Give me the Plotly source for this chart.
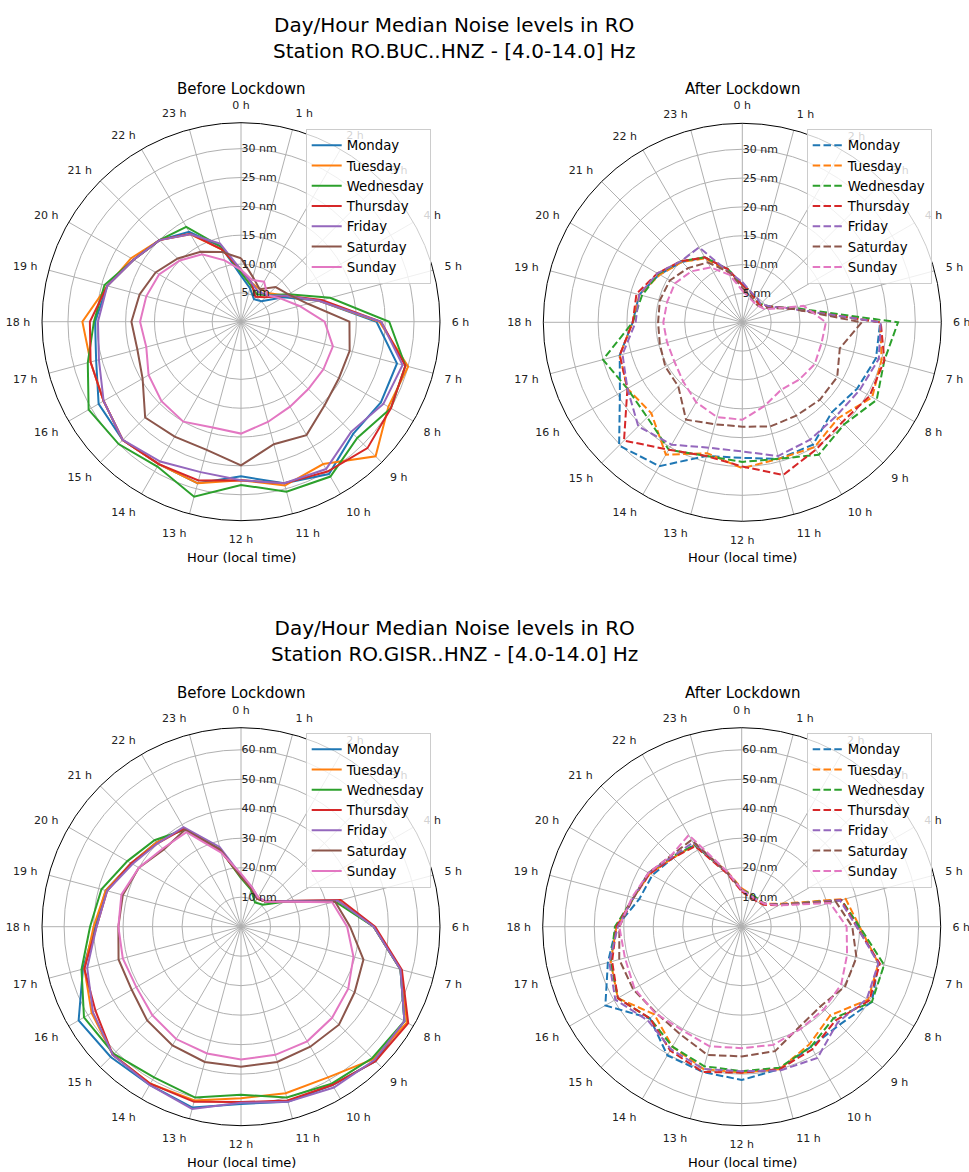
import plotly.graph_objects as go

# ---------------- data ----------------
HOURS = list(range(24))
HOUR_LABELS = [f"{h} h" for h in HOURS]
DAYS = ["Monday", "Tuesday", "Wednesday", "Thursday", "Friday", "Saturday", "Sunday"]
COLORS = ["#1f77b4", "#ff7f0e", "#2ca02c", "#d62728", "#9467bd", "#8c564b", "#e377c2"]

TOP_R_TICKS = [5, 10, 15, 20, 25, 30]
BOTTOM_R_TICKS = [10, 20, 30, 40, 50, 60]

SUPTITLE_BUC = "Day/Hour Median Noise levels in RO<br>Station RO.BUC..HNZ - [4.0-14.0] Hz"
SUPTITLE_GISR = "Day/Hour Median Noise levels in RO<br>Station RO.GISR..HNZ - [4.0-14.0] Hz"

# Station RO.BUC - before lockdown (nm), hourly medians
BUC_BEFORE_MON = [8, 6, 4.5, 5, 8.5, 14, 23.5, 28, 28, 27.5, 30.5, 29, 26.8, 29, 28.5, 29, 28.5, 26, 25.3, 24, 21.5, 20, 18, 13.5]
BUC_BEFORE_TUE = [9, 7, 6.5, 7, 9, 14, 24, 30, 29.5, 33, 28.5, 29.4, 27.5, 29, 28.5, 29, 27.5, 27, 27.5, 24, 22, 20, 17.5, 13]
BUC_BEFORE_WED = [8.5, 6.5, 5.5, 6.5, 9.5, 16, 25.7, 29.5, 30, 28.5, 31, 30.5, 28.3, 31.4, 29, 30, 30.5, 27.5, 25.5, 24.5, 21.5, 20, 19, 13.5]
BUC_BEFORE_THU = [9, 7, 5, 6, 9, 14.5, 24.3, 29.5, 30, 31, 30, 29, 27.5, 28.5, 28.5, 29, 27.5, 27, 26.2, 24, 21.5, 20, 17.6, 13]
BUC_BEFORE_FRI = [9, 7, 6, 6.5, 9, 14, 24.3, 29, 28.5, 27, 29.5, 29, 27.5, 27, 28, 29, 27.5, 25.5, 24.8, 24, 21.5, 20, 17.5, 14]
BUC_BEFORE_SAT = [11, 8, 6.5, 8.5, 9.5, 12, 18.8, 19.5, 19.6, 20.5, 22.7, 22, 24.9, 23, 23, 23.5, 19.7, 18.6, 19, 18.2, 17.1, 15.5, 14, 12.5]
BUC_BEFORE_SUN = [9, 7.5, 8, 6.5, 8, 10.5, 14.5, 16.5, 16.5, 16.5, 17, 18, 19.4, 19, 20, 19.5, 18.5, 17, 17.5, 17, 16.4, 15, 13.5, 11]

# Station RO.BUC - after lockdown
BUC_AFTER_MON = [6.5, 5.5, 4.5, 4.3, 5.5, 9, 23.9, 24, 23, 22, 24.5, 24.5, 23.5, 24, 28.8, 30.2, 24.5, 22, 19, 18.5, 16.6, 14.8, 13, 9.5]
BUC_AFTER_TUE = [6.5, 5.5, 4.5, 4.3, 5.5, 9, 23.9, 25, 26, 23.5, 25, 24.5, 25.3, 23.5, 26.5, 22.3, 23, 22, 19, 18.5, 16.5, 14.8, 12.8, 9]
BUC_AFTER_WED = [6.5, 5.5, 4.5, 4.5, 5.5, 9.5, 27, 25.5, 26.9, 25, 26.5, 24.5, 24.2, 24, 25.5, 23.3, 23, 25, 19, 18, 16.8, 15, 13, 9.5]
BUC_AFTER_THU = [6.5, 5.5, 4.5, 4.3, 5.5, 9, 24, 25.5, 25.5, 24.5, 25.5, 27.4, 25, 24, 25.5, 29, 23, 22, 19, 19, 17, 15, 13, 9.5]
BUC_AFTER_FRI = [7, 5.5, 5, 4.5, 5.5, 9, 24, 24.5, 23.5, 23, 23.5, 24, 22.4, 22.5, 24.5, 25.5, 23, 21.5, 18.5, 18.5, 17, 15, 15, 9]
BUC_AFTER_SAT = [6, 5, 4, 4, 5, 9, 20.7, 17.5, 19, 19, 18.7, 18.7, 18.1, 18.3, 19.5, 15.7, 15.4, 14.8, 14.6, 14.8, 14.5, 13.3, 12, 9]
BUC_AFTER_SUN = [5.5, 4.5, 4, 4, 4.5, 11, 14.5, 14.2, 14.5, 14, 13.5, 15, 16.9, 17, 16, 14.5, 13.6, 13.5, 13.7, 13.5, 13.5, 12.5, 11, 8.5]

# Station RO.GISR - before lockdown
GISR_BEFORE_MON = [17, 13.5, 11, 12, 17.5, 34, 45, 56, 64, 64.5, 62, 61.5, 60.1, 63.5, 62, 62.5, 63.6, 55.5, 49.5, 47.5, 43, 40.5, 38.5, 27]
GISR_BEFORE_TUE = [17, 13.5, 11, 12, 17.5, 34, 45, 56, 65, 63.5, 59, 58.5, 58.2, 61, 61.5, 61.5, 58.5, 55, 50, 47.5, 43, 40.5, 38.5, 27]
GISR_BEFORE_WED = [16.5, 13, 9.5, 10.5, 17, 33, 45, 56, 64, 63, 61.5, 60, 57, 60, 59, 61, 61.5, 56, 51.2, 49, 44.5, 41.5, 38, 27]
GISR_BEFORE_THU = [17, 13.5, 11, 12, 17.5, 35, 45.5, 56.5, 65.5, 64.5, 62, 61, 59.5, 61.5, 61.5, 61.5, 57, 55, 49, 47, 43, 40, 38.5, 26.5]
GISR_BEFORE_FRI = [17.5, 14, 11.5, 12, 17.5, 34, 45, 56, 64, 64, 63, 61.5, 59.7, 64, 62, 61.5, 58, 54, 49, 47, 42.5, 40, 39, 28]
GISR_BEFORE_SAT = [17, 13.5, 11, 12, 17, 33, 37, 43, 44.5, 47, 47, 47.5, 47.5, 47.5, 46.5, 45, 42.8, 43, 41.6, 41.5, 40, 37, 38, 27]
GISR_BEFORE_SUN = [18, 14, 11.5, 12, 17, 32, 36, 39.5, 42, 43.7, 44.9, 45, 45, 44.5, 44, 42.5, 41, 41.5, 41.6, 42, 40, 37.5, 37, 26]

# Station RO.GISR - after lockdown
GISR_AFTER_MON = [12.5, 11, 10.5, 11, 15, 35, 39.5, 48, 51, 47, 47, 50, 52, 51, 50.4, 44, 53.4, 47, 42.5, 36, 35, 33, 32, 19]
GISR_AFTER_TUE = [13, 11.5, 10.5, 11, 15.5, 36.5, 40, 48, 49.5, 42.5, 46, 50, 49.5, 50, 47, 42, 48.5, 46, 42.5, 38, 36, 33, 32, 19.5]
GISR_AFTER_WED = [12.5, 11.5, 11, 11, 15, 35, 40, 50, 51, 44, 47, 49.5, 49, 49, 47, 44, 48.5, 46, 43, 38, 36.5, 33.5, 32, 19]
GISR_AFTER_THU = [12, 10.5, 10, 10.5, 14.5, 35, 39, 48.5, 50, 45, 48, 50, 49.5, 51, 48.5, 44, 48.5, 45.5, 42.5, 38, 36, 33, 31.5, 18.5]
GISR_AFTER_FRI = [12.5, 11, 10.5, 11, 15, 34.5, 39, 48, 49, 46, 51.4, 50.5, 49, 50, 48, 45, 49.5, 46.5, 42, 38, 36.5, 33.5, 33, 19]
GISR_AFTER_SAT = [12.5, 11, 10.5, 11, 15, 33, 37.5, 40.3, 40.5, 38, 39.2, 43.7, 44, 45, 42, 41.2, 42.5, 43, 41.5, 38, 36.5, 34, 34, 19]
GISR_AFTER_SUN = [12.5, 11, 10.5, 11, 14.5, 31, 35.6, 37, 39, 39.5, 40, 41.5, 41.2, 42, 40.5, 41.5, 42, 41, 41.5, 38.5, 36.5, 34, 35.9, 19.5]

# ---------------- layout helpers ----------------
W, H = 969, 1172
FONT = "DejaVu Sans"
GRID = "#b0b0b0"


def px_x(x):
    return x / W


def px_y(y):
    return 1 - y / H


def domain(cx, cy, r):
    return dict(x=[px_x(cx - r), px_x(cx + r)], y=[px_y(cy + r), px_y(cy - r)])


panels = [
    dict(name="polar", series=[BUC_BEFORE_MON, BUC_BEFORE_TUE, BUC_BEFORE_WED, BUC_BEFORE_THU,
                                BUC_BEFORE_FRI, BUC_BEFORE_SAT, BUC_BEFORE_SUN],
         dash="solid", legend="legend", center=(241, 321.7), rmax=34.5, rticks=TOP_R_TICKS,
         leg=(305.7, 129)),
    dict(name="polar2", series=[BUC_AFTER_MON, BUC_AFTER_TUE, BUC_AFTER_WED, BUC_AFTER_THU,
                                 BUC_AFTER_FRI, BUC_AFTER_SAT, BUC_AFTER_SUN],
         dash="7.5px,3.3px", legend="legend2", center=(742.3, 322.3), rmax=34.5, rticks=TOP_R_TICKS,
         leg=(806.7, 129)),
    dict(name="polar3", series=[GISR_BEFORE_MON, GISR_BEFORE_TUE, GISR_BEFORE_WED, GISR_BEFORE_THU,
                                 GISR_BEFORE_FRI, GISR_BEFORE_SAT, GISR_BEFORE_SUN],
         dash="solid", legend="legend3", center=(241, 926.7), rmax=67.5, rticks=BOTTOM_R_TICKS,
         leg=(305.7, 733)),
    dict(name="polar4", series=[GISR_AFTER_MON, GISR_AFTER_TUE, GISR_AFTER_WED, GISR_AFTER_THU,
                                 GISR_AFTER_FRI, GISR_AFTER_SAT, GISR_AFTER_SUN],
         dash="7.5px,3.3px", legend="legend4", center=(741.7, 926.7), rmax=67.5, rticks=BOTTOM_R_TICKS,
         leg=(806.7, 733)),
]

fig = go.Figure()
layout = dict(
    width=W, height=H,
    margin=dict(l=0, r=0, t=0, b=0),
    paper_bgcolor="white",
    font=dict(family=FONT, color="black"),
    annotations=[],
)

theta_deg = [h * 15 for h in HOURS] + [HOURS[0] * 15 + 360]

for p in panels:
    for day, color, vals in zip(DAYS, COLORS, p["series"]):
        fig.add_trace(go.Scatterpolar(
            r=list(vals) + [vals[0]],
            theta=theta_deg,
            thetaunit="degrees",
            mode="lines",
            name=day,
            line=dict(color=color, width=2, dash=p["dash"]),
            subplot=p["name"],
            legend=p["legend"],
        ))
    cx, cy = p["center"]
    layout[p["name"]] = dict(
        domain=domain(cx, cy, 199),
        bgcolor="white",
        angularaxis=dict(
            rotation=90, direction="clockwise",
            tickmode="array", tickvals=[h * 15 for h in HOURS], ticktext=HOUR_LABELS,
            tickfont=dict(size=11, family=FONT, color="#222"),
            showgrid=True, gridcolor=GRID, gridwidth=1,
            showline=True, linecolor="black", linewidth=1,
            ticks="outside", ticklen=9, tickcolor="rgba(0,0,0,0)",
        ),
        radialaxis=dict(
            range=[0, p["rmax"]], angle=90, side="clockwise", tickangle=90,
            tickmode="array", tickvals=p["rticks"], ticktext=[f"{v} nm" for v in p["rticks"]],
            tickfont=dict(size=11, family=FONT, color="#222"),
            showgrid=True, gridcolor=GRID, gridwidth=1,
            showline=False, ticks="",
        ),
    )
    lx, ly = p["leg"]
    layout[p["legend"]] = dict(
        x=px_x(lx), y=px_y(ly), xanchor="left", yanchor="top",
        bgcolor="rgba(255,255,255,0.8)", bordercolor="#cccccc", borderwidth=1,
        font=dict(size=13.3, family=FONT, color="black"),
        itemwidth=30, tracegroupgap=0,
    )

ann = layout["annotations"]
ann.append(dict(text=SUPTITLE_BUC, x=px_x(454), y=px_y(37.5), xref="paper", yref="paper",
                showarrow=False, xanchor="center", yanchor="middle", font=dict(size=20)))
ann.append(dict(text=SUPTITLE_GISR, x=px_x(454), y=px_y(641.3), xref="paper", yref="paper",
                showarrow=False, xanchor="center", yanchor="middle", font=dict(size=20)))
for cx, cy, txt in [(241, 89.3, "Before Lockdown"), (742.3, 89.3, "After Lockdown"),
                    (241, 693.3, "Before Lockdown"), (742.3, 693.3, "After Lockdown")]:
    ann.append(dict(text=txt, x=px_x(cx), y=px_y(cy), xref="paper", yref="paper",
                    showarrow=False, xanchor="center", yanchor="middle", font=dict(size=15)))
for cx, cy in [(241, 557.3), (742.3, 557.3), (241, 1162.3), (742.3, 1162.3)]:
    ann.append(dict(text="Hour (local time)", x=px_x(cx), y=px_y(cy), xref="paper", yref="paper",
                    showarrow=False, xanchor="center", yanchor="middle", font=dict(size=13)))

fig.update_layout(**layout)
fig.write_html("out.html", config={"displayModeBar": False},
               post_script="document.body.style.margin='0';document.body.style.overflow='hidden';")
